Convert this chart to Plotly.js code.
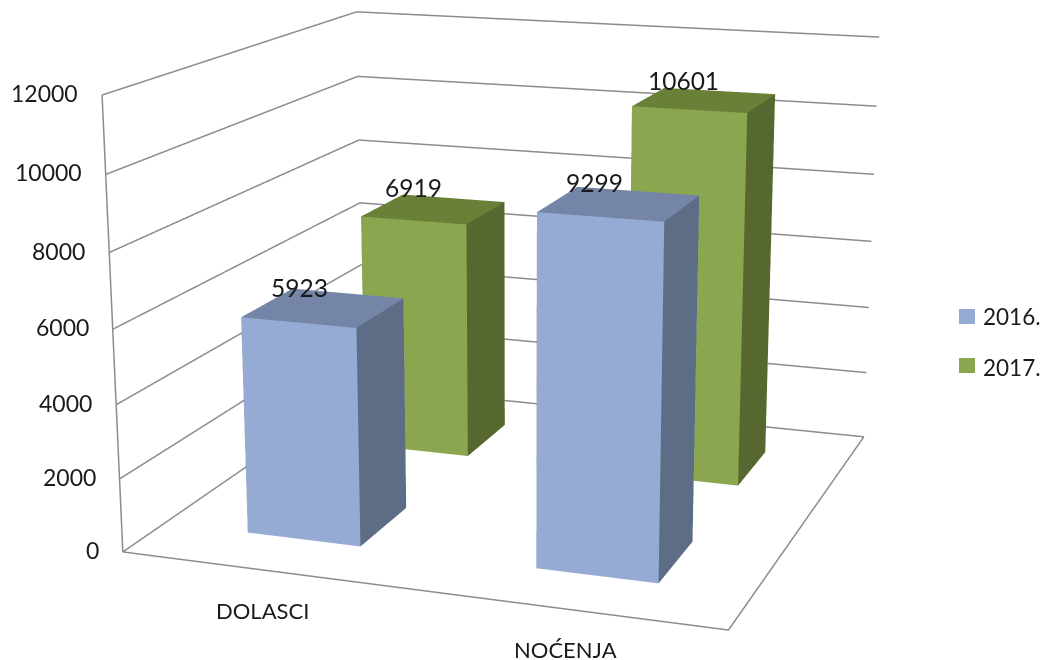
<!DOCTYPE html>
<html><head><meta charset="utf-8"><script src="https://cdn.plot.ly/plotly-3.0.1.min.js"></script>
<style>html,body{margin:0;background:#fff;overflow:hidden;width:1043px;height:660px}#c{position:absolute;left:0;top:-678px}</style></head>
<body><div id="c"></div>
<script>
const categories=['DOLASCI','NOĆENJA'];
const seriesNames=['2016.','2017.'];
const series2016=[5923,9299];
const series2017=[6919,10601];
const zTicks=[0,2000,4000,6000,8000,10000,12000];

const W=1043,H2=2017,TOP=-678;            // taller canvas = longer focal length (Plotly's fov is fixed)
const catX=[.25,.75],serY=[.25,.75],half=.1;
const blue=['#95abd3','#7485a8','#5d6d86'],green=['#8aa64f','#6a8039','#56682f'];
const TEXT='#1a1a1a';

function box(ix,is,v,cols,name){
 const x0=catX[ix]-half,x1=catX[ix]+half,y0=serY[is]-half,y1=serY[is]+half;
 return {type:'mesh3d',name,x:[x0,x1,x1,x0,x0,x1,x1,x0],y:[y0,y0,y1,y1,y0,y0,y1,y1],z:[0,0,0,0,v,v,v,v],
 i:[0,0,1,1,4,4,2,2,3,3,0,0],j:[1,5,2,6,5,6,3,7,0,4,2,3],k:[5,4,6,5,6,7,7,6,4,7,1,2],
 facecolor:[cols[0],cols[0],cols[2],cols[2],cols[1],cols[1],cols[0],cols[0],cols[2],cols[2],cols[1],cols[1]],
 flatshading:true,lighting:{ambient:1,diffuse:0,specular:0,fresnel:0,roughness:1},hoverinfo:'skip',showscale:false};
}
const traces=[];
categories.forEach((c,i)=>{
 traces.push(box(i,0,series2016[i],blue,seriesNames[0]));
 traces.push(box(i,1,series2017[i],green,seriesNames[1]));
});
const lx=[],ly=[],lz=[];
zTicks.forEach(z=>{lx.push(0,0,1,null);ly.push(0,1,1,null);lz.push(z,z,z,null)});
lx.push(0,0,null,0,1,1,null);ly.push(0,0,null,0,0,1,null);lz.push(0,12000,null,0,0,0,null);
traces.push({type:'scatter3d',mode:'lines',x:lx,y:ly,z:lz,line:{color:'#8c8c8c',width:3},hoverinfo:'skip',showlegend:false});

const f=s=>({family:'Lato',size:s,color:TEXT});
const ann=[];
zTicks.forEach(z=>ann.push({x:0,y:0,z,text:String(z),showarrow:false,xanchor:'right',xshift:-22,yshift:2,font:f(23)}));
ann.push({x:catX[0],y:0,z:0,text:categories[0],showarrow:false,yshift:-40,xshift:-2,font:f(22)});
ann.push({x:catX[1],y:0,z:0,text:categories[1],showarrow:false,yshift:-40,xshift:-2,font:f(22)});
const valLabel=(ix,is,v,dx,dy)=>ann.push({x:catX[ix],y:serY[is],z:v,text:String(v),showarrow:false,xshift:dx,yshift:dy,font:f(24.5)});
valLabel(0,0,series2016[0],-24,20);
valLabel(0,1,series2017[0],-20,22);
valLabel(1,0,series2016[1],-25,21);
valLabel(1,1,series2017[1],-21,20);

const px=x=>x/W,py=y=>1-(y-TOP)/H2;
const layout={width:W,height:H2,margin:{l:0,r:0,t:0,b:0},paper_bgcolor:'#fff',showlegend:false,
 scene:{domain:{x:[0,1],y:[0,1]},aspectmode:'manual',aspectratio:{x:1,y:.9922,z:.7398},
 camera:{eye:{x:1.3138,y:-3.7566,z:.9945},center:{x:.1061,y:-.2925,z:0},up:{x:-.0036,y:0,z:1},projection:{type:'perspective'}},
 xaxis:{visible:false,range:[0,1]},yaxis:{visible:false,range:[0,1]},zaxis:{visible:false,range:[0,12000]},annotations:ann},
 annotations:[
  {xref:'paper',yref:'paper',x:px(981),y:py(316),xanchor:'left',text:seriesNames[0],showarrow:false,font:f(22.5)},
  {xref:'paper',yref:'paper',x:px(981),y:py(367),xanchor:'left',text:seriesNames[1],showarrow:false,font:f(22.5)}],
 shapes:[
  {type:'rect',xref:'paper',yref:'paper',x0:px(959),x1:px(975),y0:py(309),y1:py(324),fillcolor:blue[0],line:{width:0}},
  {type:'rect',xref:'paper',yref:'paper',x0:px(959),x1:px(975),y0:py(358),y1:py(373),fillcolor:green[0],line:{width:0}}]};
Plotly.newPlot('c',traces,layout,{displayModeBar:false});
</script></body></html>
